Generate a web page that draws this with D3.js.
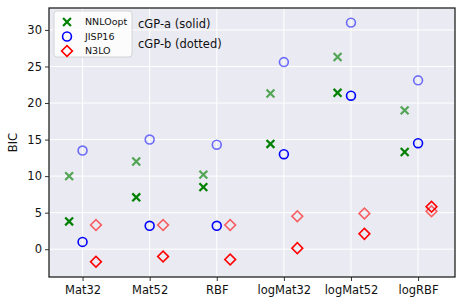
<!DOCTYPE html>
<html>
<head>
<meta charset="utf-8">
<script src="https://cdn.jsdelivr.net/npm/d3@7"></script>
<style>
  body { margin: 0; background: #fff; }
  text { font-family: "DejaVu Sans", sans-serif; }
</style>
</head>
<body>
<svg id="chart" width="463" height="306"></svg>
<script>
// kernels on the x axis
const kernels = ['Mat32', 'Mat52', 'RBF', 'logMat32', 'logMat52', 'logRBF'];
const yTicks = [0, 5, 10, 15, 20, 25, 30];

// cGP-a (solid)
const nnloSolid = [3.8, 7.1, 8.5, 14.4, 21.4, 13.3];
const jispSolid = [1.0, 3.2, 3.2, 13.0, 21.0, 14.5];
const n3loSolid = [-1.7, -1.0, -1.4, 0.15, 2.1, 5.8];
// cGP-b (dotted)
const nnloDotted = [10.0, 12.0, 10.2, 21.3, 26.3, 19.0];
const jispDotted = [13.5, 15.0, 14.3, 25.6, 31.0, 23.1];
const n3loDotted = [3.3, 3.3, 3.3, 4.5, 4.9, 5.2];

const svg = d3.select('#chart');
const plotLeft = 49, plotRight = 455, plotTop = 8, plotBottom = 277;

const x = d3.scaleLinear().domain([-0.5, 5.55]).range([plotLeft, plotRight]);
const y = d3.scaleLinear().domain([-3.8, 33]).range([plotBottom, plotTop]);

// background + grid
svg.append('rect')
    .attr('x', plotLeft).attr('y', plotTop)
    .attr('width', plotRight - plotLeft).attr('height', plotBottom - plotTop)
    .attr('fill', '#eaeaf2');

svg.append('g').selectAll('line').data(yTicks).join('line')
    .attr('x1', plotLeft).attr('x2', plotRight)
    .attr('y1', d => y(d)).attr('y2', d => y(d))
    .attr('stroke', '#fff').attr('stroke-width', 1);
svg.append('g').selectAll('line').data(kernels).join('line')
    .attr('x1', (d, i) => x(i)).attr('x2', (d, i) => x(i))
    .attr('y1', plotTop).attr('y2', plotBottom)
    .attr('stroke', '#fff').attr('stroke-width', 1);

// axes
const yAxis = svg.append('g')
    .attr('transform', `translate(${plotLeft},0)`)
    .call(d3.axisLeft(y).tickValues(yTicks).tickSize(4).tickPadding(3));
const xAxis = svg.append('g')
    .attr('transform', `translate(0,${plotBottom})`)
    .call(d3.axisBottom(x).tickValues(d3.range(kernels.length))
        .tickFormat(i => kernels[i]).tickSize(4).tickPadding(5));
[yAxis, xAxis].forEach(g => {
    g.select('.domain').remove();
    g.selectAll('line').attr('stroke', '#333');
    g.selectAll('text').attr('font-size', 11.5).attr('fill', '#111');
});

// frame
svg.append('rect')
    .attr('x', plotLeft).attr('y', plotTop)
    .attr('width', plotRight - plotLeft).attr('height', plotBottom - plotTop)
    .attr('fill', 'none').attr('stroke', '#222').attr('stroke-width', 1.3);

svg.append('text')
    .attr('transform', `translate(13,${(plotTop + plotBottom) / 2}) rotate(-90)`)
    .attr('text-anchor', 'middle').attr('dy', '0.35em')
    .attr('font-size', 11.5).attr('fill', '#111')
    .text('BIC');

// marker shapes
const sym = {
    cross: d3.symbol().type(d3.symbolX).size(42),
    circle: d3.symbol().type(d3.symbolCircle).size(62),
    diamond: d3.symbol().type(d3.symbolSquare).size(58)
};

function drawSeries(values, offset, shape, color, opacity) {
    const g = svg.append('g');
    g.selectAll('path').data(values).join('path')
        .attr('d', sym[shape]())
        .attr('transform', (d, i) => `translate(${x(i + offset)},${y(d)})` + (shape === 'diamond' ? ' rotate(45)' : ''))
        .attr('fill', 'none')
        .attr('stroke', color)
        .attr('stroke-width', shape === 'cross' ? 2.2 : 1.6)
        .attr('opacity', opacity);
}

drawSeries(nnloDotted, -0.2, 'cross', 'green', 0.65);
drawSeries(jispDotted, 0, 'circle', 'blue', 0.55);
drawSeries(n3loDotted, 0.2, 'diamond', 'red', 0.6);
drawSeries(nnloSolid, -0.2, 'cross', 'green', 1);
drawSeries(jispSolid, 0, 'circle', 'blue', 1);
drawSeries(n3loSolid, 0.2, 'diamond', 'red', 1);

// legend
const legendItems = [
    { label: 'NNLOopt', shape: 'cross', color: 'green' },
    { label: 'JISP16', shape: 'circle', color: 'blue' },
    { label: 'N3LO', shape: 'diamond', color: 'red' }
];
const legend = svg.append('g');
legend.append('rect')
    .attr('x', 54).attr('y', 11).attr('width', 78).attr('height', 46)
    .attr('rx', 3)
    .attr('fill', '#fff').attr('fill-opacity', 0.85)
    .attr('stroke', '#ccc').attr('stroke-width', 0.8);
legendItems.forEach((d, i) => {
    const cy = 22 + i * 14.5;
    legend.append('path')
        .attr('d', sym[d.shape]())
        .attr('transform', `translate(67,${cy})` + (d.shape === 'diamond' ? ' rotate(45)' : ''))
        .attr('fill', 'none').attr('stroke', d.color)
        .attr('stroke-width', d.shape === 'cross' ? 2.2 : 1.6);
    legend.append('text')
        .attr('x', 85).attr('y', cy).attr('dy', '0.35em')
        .attr('font-size', 9.5).attr('fill', '#111')
        .text(d.label);
});

svg.append('text').attr('x', 138).attr('y', 24).attr('dy', '0.35em')
    .attr('font-size', 11.5).attr('fill', '#111').text('cGP-a (solid)');
svg.append('text').attr('x', 138).attr('y', 44).attr('dy', '0.35em')
    .attr('font-size', 11.5).attr('fill', '#111').text('cGP-b (dotted)');
</script>
</body>
</html>
